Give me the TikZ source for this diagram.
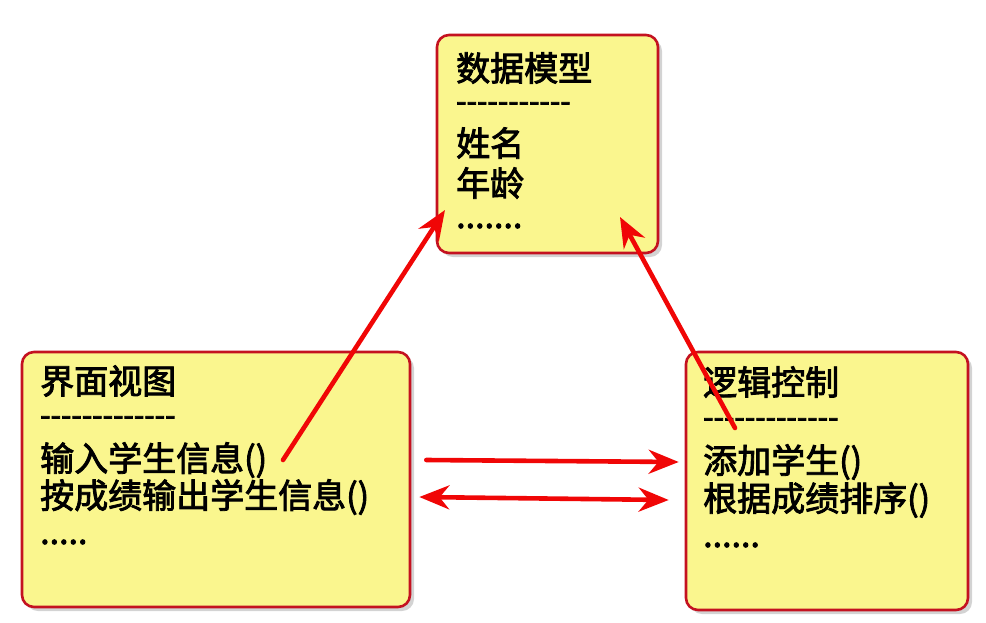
\documentclass[tikz,border=0pt]{standalone}
\usepackage{fontspec}
\setmainfont{Noto Sans CJK SC}[AutoFakeBold=2.5, Ligatures=TeXOff]
\usetikzlibrary{arrows.meta,shadows}
\definecolor{notefill}{RGB}{250,246,142}
\definecolor{noteedge}{RGB}{196,18,32}
\definecolor{arrowred}{RGB}{240,6,6}
\tikzset{
    note/.style={draw=noteedge, line width=2.6pt, fill=notefill, rounded corners=12pt,
        drop shadow={shadow xshift=4pt, shadow yshift=-4pt, opacity=.35}},
    txt/.style={anchor=west, inner sep=0pt, font=\fontsize{34}{39}\selectfont\bfseries},
    rule/.style={txt, font=\fontsize{30}{30}\selectfont\bfseries},
    link/.style={draw=arrowred, line width=4.6pt, line cap=round,
        -{Stealth[length=30pt, width=24pt]}},
    twolink/.style={link, {Stealth[length=30pt, width=24pt]}-{Stealth[length=30pt, width=24pt]}}
}
\begin{document}
\begin{tikzpicture}[x=1pt, y=-1pt]
    \useasboundingbox (0,0) rectangle (986,622);
    % the three boxes
    \node[note, minimum width=221pt, minimum height=218pt] (model) at (547.5,144) {};
    \node[note, minimum width=388pt, minimum height=255pt] (view) at (216,479.5) {};
    \node[note, minimum width=282pt, minimum height=258pt] (ctrl) at (827,481) {};
    % model text
    \node[txt] (m1) at (456,68) {数据模型};
    \node[rule] (m2) at (456,107) {-----------};
    \node[txt] (m3) at (456,143) {姓名};
    \node[txt] (m4) at (456,183) {年龄};
    \node[txt] (m5) at (456,226) {.......};
    % view text
    \node[txt] (v1) at (40,381) {界面视图};
    \node[rule] (v2) at (40,421) {-------------};
    \node[txt] (v3) at (40,460) {输入学生信息()};
    \node[txt] (v4) at (40,497) {按成绩输出学生信息()};
    \node[txt] (v5) at (40,542) {.....};
    % control text
    \node[txt] (c1) at (703,382) {逻辑控制};
    \node[rule] (c2) at (703,423) {-------------};
    \node[txt] (c3) at (703,462) {添加学生()};
    \node[txt] (c4) at (703,500) {根据成绩排序()};
    \node[txt] (c5) at (703,545) {......};
    % arrow ends
    \coordinate (vS) at (283,460);
    \coordinate (mL) at (445,210);
    \coordinate (mR) at (620,217);
    \coordinate (cS) at (735,428);
    % connectors
    \draw[link] (vS) -- (mL);
    \draw[link] (cS) -- (mR);
    \draw[link] ([xshift=15pt]view.east |- v3) -- ([xshift=-6pt]ctrl.west |- c3);
    \draw[twolink] ([xshift=8pt]view.east |- v4) -- ([xshift=-16pt]ctrl.west |- c4);
\end{tikzpicture}
\end{document}
